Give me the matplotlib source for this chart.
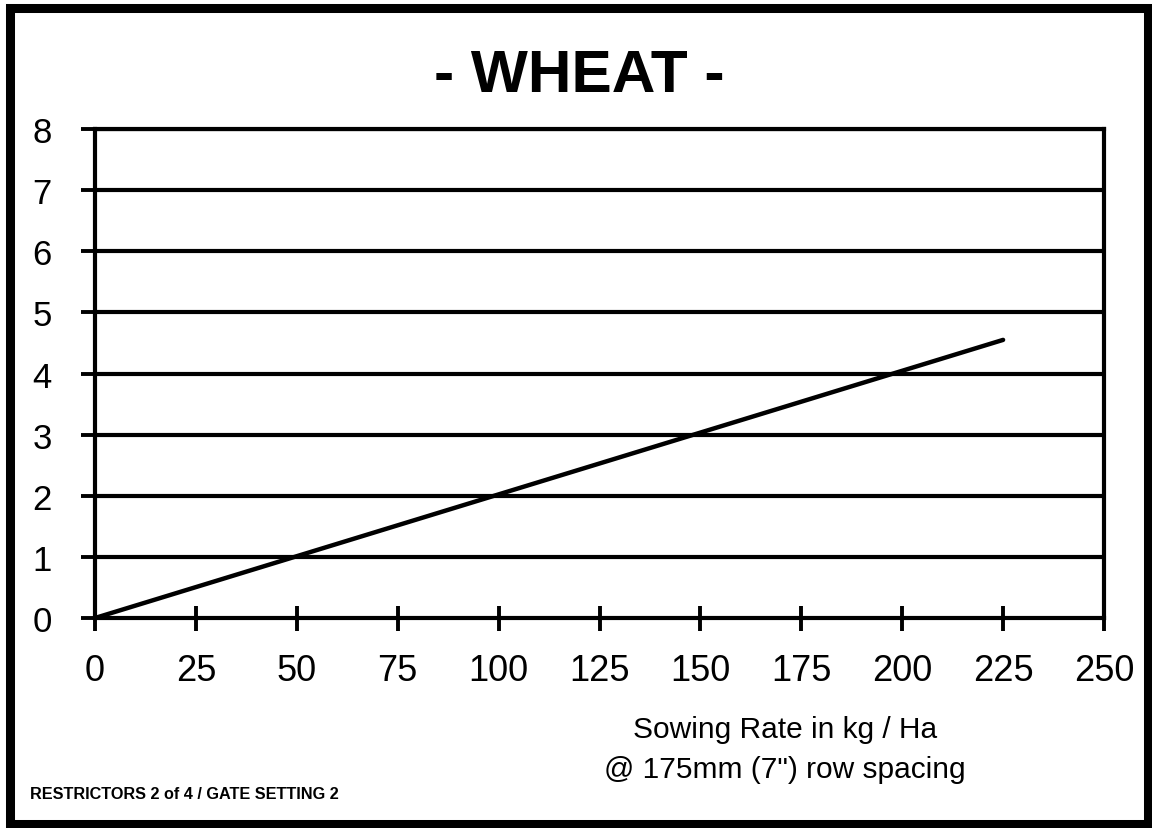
import matplotlib.pyplot as plt
import matplotlib.patches as patches

# dati
sowing_rate = [0, 225]
gate_value = [0, 4.55]
x_ticks = [0, 25, 50, 75, 100, 125, 150, 175, 200, 225, 250]
y_ticks = [0, 1, 2, 3, 4, 5, 6, 7, 8]

plt.rcParams['font.family'] = ['Liberation Sans', 'DejaVu Sans']

fig = plt.figure(figsize=(11.52, 8.29), dpi=100)
ax = fig.add_axes([95 / 1152, 1 - 619 / 829, (1104 - 95) / 1152, (619 - 130) / 829])

# griglia orizzontale
for v in y_ticks[1:]:
    ax.axhline(v, color='black', linewidth=3, zorder=1)

ax.plot(sowing_rate, gate_value, color='black', linewidth=3.2,
        solid_capstyle='round', zorder=3)

ax.set_xlim(0, 250)
ax.set_ylim(0, 8)
ax.set_xticks(x_ticks)
ax.set_yticks(y_ticks)
ax.tick_params(axis='x', direction='inout', length=18, width=2.8, pad=16, labelsize=26)
ax.tick_params(axis='y', direction='out', length=10, width=2.8, pad=21, labelsize=25)
for s in ax.spines.values():
    s.set_linewidth(3)
    s.set_color('black')

# titolo e testi
fig.text(579 / 1152, 1 - 77 / 829, '- WHEAT -', ha='center', va='center',
         fontsize=43.5, fontweight='bold')
fig.text(785 / 1152, 1 - 730 / 829, 'Sowing Rate in kg / Ha', ha='center', va='center',
         fontsize=21.5)
fig.text(785 / 1152, 1 - 770 / 829, '@ 175mm (7") row spacing', ha='center', va='center',
         fontsize=21.5)
fig.text(30 / 1152, 1 - 795 / 829, 'RESTRICTORS 2 of 4 / GATE SETTING 2', ha='left', va='center',
         fontsize=11.7, fontweight='bold')

# cornice esterna
frame = patches.Rectangle((9.5 / 1152, 4 / 829), (1148 - 9.5) / 1152, (820 - 4) / 829,
                          transform=fig.transFigure, fill=False, edgecolor='black',
                          linewidth=6.5, zorder=10)
fig.patches.append(frame)

fig.savefig('out.png', dpi=100)
